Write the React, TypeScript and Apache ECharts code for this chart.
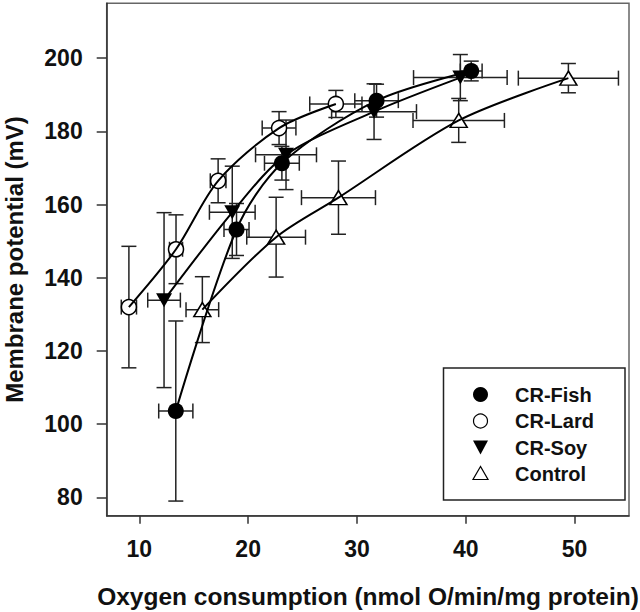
import { useEffect, useRef } from "react";
import * as echarts from "echarts";

const seriesNames = ["CR-Fish", "CR-Lard", "CR-Soy", "Control"];

const fishX = [13.35, 18.93, 23.1, 31.8, 40.5];
const fishY = [103.6, 153.2, 171.3, 188.4, 196.5];
const fishXErr = [1.57, 1.15, 1.6, 2.0, 1.0];
const fishYErr = [24.6, 7.1, 4.6, 4.5, 2.7];

const lardX = [9.04, 13.37, 17.24, 22.84, 28.06];
const lardY = [132.0, 147.8, 166.5, 180.9, 187.5];
const lardXErr = [0.7, 0.6, 0.72, 1.55, 2.4];
const lardYErr = [16.6, 9.4, 6.0, 4.5, 3.7];

const soyX = [12.27, 18.54, 23.48, 31.57, 39.5];
const soyY = [133.9, 157.9, 173.6, 185.4, 194.7];
const soyXErr = [1.5, 2.1, 2.8, 3.9, 4.3];
const soyYErr = [23.9, 12.6, 9.5, 7.6, 6.3];

const controlX = [15.79, 22.57, 28.3, 39.35, 49.43];
const controlY = [131.3, 151.1, 161.9, 183.0, 194.55];
const controlXErr = [1.5, 2.7, 3.4, 4.2, 4.6];
const controlYErr = [9.0, 10.9, 10.0, 6.0, 4.0];

const xTicks = [10, 20, 30, 40, 50];
const yTicks = [80, 100, 120, 140, 160, 180, 200];

const xTitle = "Oxygen consumption (nmol O/min/mg protein)";
const yTitle = "Membrane potential (mV)";

const FONT = '"Liberation Sans", Arial, Helvetica, sans-serif';

function pts(xs: number[], ys: number[]) {
  return xs.map((x, i) => [x, ys[i]]);
}
function errPts(xs: number[], ys: number[], ex: number[], ey: number[]) {
  return xs.map((x, i) => [x, ys[i], ex[i], ey[i]]);
}

export default function App() {
  const ref = useRef<HTMLDivElement>(null);
  useEffect(() => {
    const chart = echarts.init(ref.current!, null, { renderer: "svg" });

    const groups = [
      { name: seriesNames[0], x: fishX, y: fishY, ex: fishXErr, ey: fishYErr, symbol: "circle", size: 16, rotate: 0, fill: "#000" },
      { name: seriesNames[1], x: lardX, y: lardY, ex: lardXErr, ey: lardYErr, symbol: "circle", size: 15, rotate: 0, fill: "#fff" },
      { name: seriesNames[2], x: soyX, y: soyY, ex: soyXErr, ey: soyYErr, symbol: "triangle", size: [16, 14], rotate: 180, fill: "#000" },
      { name: seriesNames[3], x: controlX, y: controlY, ex: controlXErr, ey: controlYErr, symbol: "triangle", size: [17, 14], rotate: 0, fill: "#fff" },
    ];

    const errStyle = { stroke: "#222", lineWidth: 1.5 };
    const cap = 7.5;
    const renderErr = (_params: any, api: any) => {
      const x = api.value(0);
      const y = api.value(1);
      const ex = api.value(2);
      const ey = api.value(3);
      const c = api.coord([x, y]);
      const l = api.coord([x - ex, y]);
      const r = api.coord([x + ex, y]);
      const t = api.coord([x, y + ey]);
      const b = api.coord([x, y - ey]);
      return {
        type: "group",
        children: [
          { type: "line", shape: { x1: l[0], y1: c[1], x2: r[0], y2: c[1] }, style: errStyle },
          { type: "line", shape: { x1: l[0], y1: c[1] - cap, x2: l[0], y2: c[1] + cap }, style: errStyle },
          { type: "line", shape: { x1: r[0], y1: c[1] - cap, x2: r[0], y2: c[1] + cap }, style: errStyle },
          { type: "line", shape: { x1: c[0], y1: t[1], x2: c[0], y2: b[1] }, style: errStyle },
          { type: "line", shape: { x1: c[0] - cap, y1: t[1], x2: c[0] + cap, y2: t[1] }, style: errStyle },
          { type: "line", shape: { x1: c[0] - cap, y1: b[1], x2: c[0] + cap, y2: b[1] }, style: errStyle },
        ],
      };
    };

    const series: any[] = [];
    groups.forEach((g) => {
      series.push({
        type: "custom",
        name: g.name + " err",
        data: errPts(g.x, g.y, g.ex, g.ey),
        encode: { x: 0, y: 1 },
        renderItem: renderErr,
        z: 1,
        silent: true,
      });
    });
    groups.forEach((g) => {
      series.push({
        type: "scatter",
        name: g.name,
        data: pts(g.x, g.y),
        symbol: g.symbol,
        symbolSize: g.size,
        symbolRotate: g.rotate,
        itemStyle: { color: g.fill, borderColor: "#000", borderWidth: g.fill === "#fff" ? 1.5 : 0, opacity: 1 },
        z: 2,
        silent: true,
      });
    });
    groups.forEach((g) => {
      series.push({
        type: "line",
        name: g.name + " fit",
        data: pts(g.x, g.y),
        showSymbol: false,
        smooth: 0.3,
        lineStyle: { color: "#000", width: 2 },
        z: 3,
        silent: true,
      });
    });

    const legendRows = [394.5, 421, 447.5, 473.5];
    const iconX = 480.5;
    const legendGraphics: any[] = [
      {
        type: "rect",
        shape: { x: 443.5, y: 368, width: 181.5, height: 132 },
        style: { fill: "#fff", stroke: "#222", lineWidth: 1.5 },
        z: 100,
      },
      { type: "circle", shape: { cx: iconX, cy: legendRows[0], r: 7.5 }, style: { fill: "#000" }, z: 101 },
      { type: "circle", shape: { cx: iconX, cy: legendRows[1], r: 7 }, style: { fill: "#fff", stroke: "#000", lineWidth: 1.2 }, z: 101 },
      {
        type: "polygon",
        shape: { points: [[iconX - 7.5, legendRows[2] - 7], [iconX + 7.5, legendRows[2] - 7], [iconX, legendRows[2] + 7]] },
        style: { fill: "#000" },
        z: 101,
      },
      {
        type: "polygon",
        shape: { points: [[iconX, legendRows[3] - 7], [iconX - 7.5, legendRows[3] + 6], [iconX + 7.5, legendRows[3] + 6]] },
        style: { fill: "#fff", stroke: "#000", lineWidth: 1.2 },
        z: 101,
      },
      ...seriesNames.map((n, i) => ({
        type: "text",
        x: 515,
        y: legendRows[i],
        style: { text: n, font: `bold 20px ${FONT}`, fill: "#111", textAlign: "left", textVerticalAlign: "middle" },
        z: 101,
      })),
    ];

    const option: any = {
      animation: false,
      backgroundColor: "#fff",
      grid: {
        left: 106.7,
        right: 11,
        top: 3.3,
        bottom: 96.3,
        show: true,
        borderColor: "#666",
        borderWidth: 1.5,
        backgroundColor: "transparent",
      },
      xAxis: {
        type: "value",
        min: 7,
        max: 55,
        axisLine: { show: true, onZero: false, lineStyle: { color: "#333", width: 1.5 } },
        axisTick: { show: true, length: 8, customValues: xTicks, lineStyle: { color: "#333", width: 1.5 } },
        axisLabel: {
          customValues: xTicks,
          margin: 22,
          fontSize: 23,
          fontWeight: "bold",
          fontFamily: FONT,
          color: "#111",
        },
        splitLine: { show: false },
      },
      yAxis: {
        type: "value",
        min: 75,
        max: 215,
        axisLine: { show: true, onZero: false, lineStyle: { color: "#333", width: 1.5 } },
        axisTick: { show: true, length: 10, customValues: yTicks, lineStyle: { color: "#333", width: 1.5 } },
        axisLabel: {
          customValues: yTicks,
          margin: 24,
          fontSize: 23,
          fontWeight: "bold",
          fontFamily: FONT,
          color: "#111",
        },
        splitLine: { show: false },
      },
      graphic: [
        {
          type: "text",
          x: 368,
          y: 596,
          style: { text: xTitle, font: `bold 24.5px ${FONT}`, fill: "#111", textAlign: "center", textVerticalAlign: "middle" },
        },
        {
          type: "text",
          x: 14,
          y: 259.5,
          rotation: Math.PI / 2,
          style: { text: yTitle, font: `bold 24px ${FONT}`, fill: "#111", textAlign: "center", textVerticalAlign: "middle" },
        },
        ...legendGraphics,
      ],
      series,
    };

    chart.setOption(option);
    return () => chart.dispose();
  }, []);
  return (
    <div
      ref={ref}
      style={{ position: "absolute", left: 0, top: 0, width: 640, height: 612, background: "#fff" }}
    />
  );
}
